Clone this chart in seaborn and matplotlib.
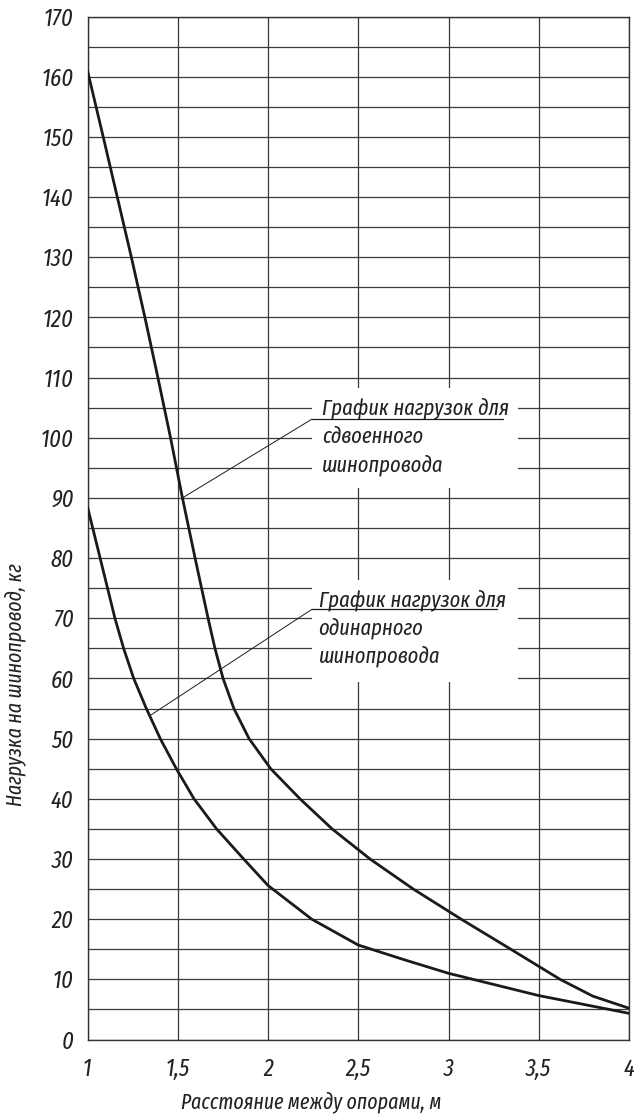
import os
import matplotlib
matplotlib.use("Agg")
import matplotlib.pyplot as plt
from matplotlib import font_manager
from matplotlib.ft2font import FT2Font
from matplotlib.patches import Rectangle
import numpy as np
import pandas as pd
import seaborn as sns

# Данные
double_x = [1.0, 1.087, 1.165, 1.243, 1.318, 1.39, 1.46, 1.526, 1.596, 1.632, 1.668, 1.706,
            1.751, 1.811, 1.895, 2.015, 2.177, 2.355, 2.565, 2.805, 3.07, 3.345,
            3.618, 3.8, 4.0]
double_y = [161, 150, 140, 130, 120, 110, 100, 90, 80, 75, 70, 65,
            60, 55, 50, 45, 40, 35, 30, 25, 20, 15,
            10, 7.2, 5.2]

single_x = [1.0, 1.07, 1.152, 1.20, 1.256, 1.326, 1.403, 1.492, 1.59, 1.715,
            1.865, 2.0, 2.242, 2.5, 2.75, 3.0, 3.5, 4.0]
single_y = [88.5, 80, 70, 65, 60, 55, 50, 45, 40, 35,
            30, 25.6, 20, 15.7, 13.3, 11.0, 7.3, 4.35]

x_ticks = [1, 1.5, 2, 2.5, 3, 3.5, 4]
x_labels = ["1", "1,5", "2", "2,5", "3", "3,5", "4"]
y_ticks = list(range(0, 171, 10))

label_double = ["График нагрузок для", "сдвоенного", "шинопровода"]
label_single = ["График нагрузок для", "одинарного", "шинопровода"]

df = pd.concat([
    pd.DataFrame({"x": double_x, "y": double_y, "curve": "double"}),
    pd.DataFrame({"x": single_x, "y": single_y, "curve": "single"}),
])


def has_cyrillic(path):
    try:
        cmap = FT2Font(path).get_charmap()
    except Exception:
        return False
    return all(ord(c) in cmap for c in "ГрафикЖшм")


# ищем узкий курсивный шрифт с кириллицей (как чертёжный шрифт в оригинале)
def pick_font():
    bad = ["bold", "light", "thin", "medium", "black", "heavy", "semi", "extrab", "mono"]
    best = None
    for f in font_manager.fontManager.ttflist:
        p = os.path.basename(f.fname).lower()
        if f.style not in ("italic", "oblique") or any(b in p for b in bad):
            continue
        if "narrow" in p:
            rank = 0
        elif "extracondensed" in p:
            rank = 1
        elif "condensed" in p:
            rank = 2
        else:
            continue
        if (best is None or rank < best[0]) and has_cyrillic(f.fname):
            best = (rank, f.fname)
    if best:
        return font_manager.FontProperties(fname=best[1]), True
    return font_manager.FontProperties(family="Roboto", style="italic"), False


sns.set_style("white")
plt.rcParams["font.family"] = ["DejaVu Sans"]
fp, narrow = pick_font()
k = 1.0 if narrow else 0.8

fig, ax = plt.subplots(figsize=(6.35, 11.17), dpi=100)
fig.subplots_adjust(left=87.5 / 635, right=629 / 635,
                    top=1 - 16.5 / 1117, bottom=1 - 1039.5 / 1117)

sns.lineplot(data=df, x="x", y="y", units="curve", estimator=None, sort=False,
             color="#1a1a1a", lw=2.0, ax=ax, zorder=5)

ax.set_xlim(1, 4)
ax.set_ylim(0, 170)
ax.set_xticks(x_ticks)
ax.set_xticklabels(x_labels)
ax.set_yticks(y_ticks)
ax.set_yticks(np.arange(5, 170, 10), minor=True)
ax.tick_params(axis="both", which="both", length=0)
ax.tick_params(axis="x", pad=13)
ax.tick_params(axis="y", pad=10)
for lab in ax.get_xticklabels() + ax.get_yticklabels():
    lab.set_fontproperties(fp)
    lab.set_fontsize(17.5 * k)
    lab.set_color("#222222")
ax.grid(True, which="both", color="#3a3a3a", lw=0.9)
for s in ax.spines.values():
    s.set_color("#333333")
    s.set_linewidth(1.0)

ax.set_xlabel("Расстояние между опорами, м", fontproperties=fp, fontsize=15.5 * k, color="#222222")
ax.set_ylabel("Нагрузка на шинопровод, кг", fontproperties=fp, fontsize=15.5 * k, color="#222222")
ax.xaxis.set_label_coords(0.413, -0.0505)
ax.yaxis.set_label_coords(-0.114, 0.347)


def callout(lines, top, bottom, y_lines, y_under, x_text, x_under_end, target):
    # белая подложка под подпись
    ax.add_patch(Rectangle((2.244, bottom), 3.385 - 2.244, top - bottom,
                           facecolor="white", edgecolor="none", zorder=3))
    for txt, yy in zip(lines, y_lines):
        ax.text(x_text, yy, txt, fontproperties=fp, fontsize=16 * k, color="#222222",
                va="center", ha="left", zorder=4)
    ax.plot([2.244, x_under_end], [y_under, y_under], color="#1a1a1a", lw=0.9, zorder=4)
    ax.plot([2.244, target[0]], [y_under, target[1]], color="#1a1a1a", lw=0.7, zorder=4)


callout(label_double, 108.3, 91.6, [104.9, 100.2, 95.5], 103.1, 2.30, 3.30, (1.526, 90.0))
callout(label_single, 76.4, 59.4, [73.0, 68.4, 63.7], 71.5, 2.28, 3.27, (1.345, 53.8))

fig.savefig("out.png", dpi=100)
